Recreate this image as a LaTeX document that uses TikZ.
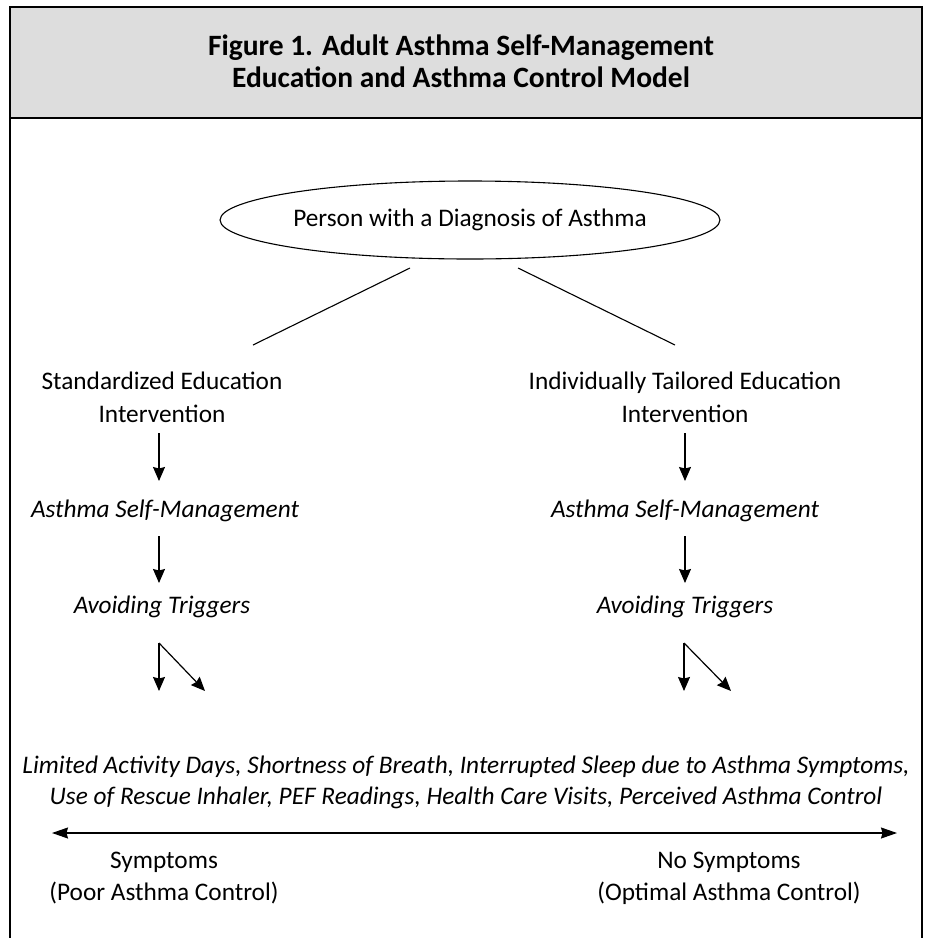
\documentclass[tikz,border=0pt]{standalone}
\usepackage{fontspec}
\setmainfont{Carlito}
\usetikzlibrary{arrows.meta,shapes.geometric}
\definecolor{titlegray}{RGB}{221,221,221}
\begin{document}
\begin{tikzpicture}[x=1pt,y=-1pt,
  frame/.style={line width=1.4pt},
  bodytext/.style={font={\fontsize{25.3}{33}\selectfont}, inner sep=0pt, align=center, anchor=base},
  listtext/.style={font={\fontsize{25.3}{31}\selectfont\itshape}, inner sep=0pt, align=center, anchor=base},
  titletext/.style={font={\fontsize{29.5}{32}\selectfont\bfseries}, inner sep=0pt, align=center, anchor=base},
  conn/.style={line width=1.1pt},
  arr/.style={line width=1.2pt, -{Stealth[length=14pt,width=12pt,inset=1.5pt]}},
  darr/.style={line width=1.2pt, {Stealth[length=16pt,width=11pt,inset=1.5pt]}-{Stealth[length=16pt,width=11pt,inset=1.5pt]}}
]
\useasboundingbox (0,0) rectangle (926,938);
% frame and title box
\path[fill=titlegray] (10,7) rectangle (922,118);
\draw[frame] (10,938) -- (10,7) -- (922,7) -- (922,938);
\draw[line width=1.8pt] (10,118) -- (922,118);
\node[titletext] (title) at (461,87) {Figure 1. Adult Asthma Self-Management\\Education and Asthma Control Model};

% top ellipse
\node[ellipse, draw, line width=1.1pt, minimum width=454pt, minimum height=78pt, inner sep=0pt,
      font={\fontsize{25.3}{30}\selectfont}] (person) at (470,220) {Person with a Diagnosis of Asthma};

% left column
\node[bodytext] (std) at (162,422) {Standardized Education\\Intervention};
\node[listtext] (asmL) at (165,517) {Asthma Self-Management};
\node[listtext] (avL) at (162,613) {Avoiding Triggers};

% right column
\node[bodytext] (ind) at (685,422) {Individually Tailored Education\\Intervention};
\node[listtext] (asmR) at (685,517) {Asthma Self-Management};
\node[listtext] (avR) at (685,613) {Avoiding Triggers};

% outcomes
\node[listtext] (list) at (466,804) {Limited Activity Days, Shortness of Breath, Interrupted Sleep due to Asthma Symptoms,\\Use of Rescue Inhaler, PEF Readings, Health Care Visits, Perceived Asthma Control};
\node[bodytext, font={\fontsize{25.3}{32}\selectfont}] (sympL) at (164,900) {Symptoms\\(Poor Asthma Control)};
\node[bodytext, font={\fontsize{25.3}{32}\selectfont}] (sympR) at (729,900) {No Symptoms\\(Optimal Asthma Control)};

% connector end points
\coordinate (pl) at (410,268);
\coordinate (pr) at (518,268);
\coordinate (sl) at (253,345);
\coordinate (sr) at (675,345);
\coordinate (a1s) at (159,433); \coordinate (a1e) at (159,481);
\coordinate (a2s) at (159,536); \coordinate (a2e) at (159,583);
\coordinate (b1s) at (685,433); \coordinate (b1e) at (685,481);
\coordinate (b2s) at (685,536); \coordinate (b2e) at (685,583);
\coordinate (fl) at (159,643); \coordinate (flv) at (159,691); \coordinate (fld) at (205,691);
\coordinate (fr) at (684,643); \coordinate (frv) at (684,691); \coordinate (frd) at (731,691);
\coordinate (hl) at (52,833); \coordinate (hr) at (897,833);

\draw[conn] (pl) -- (sl);
\draw[conn] (pr) -- (sr);
\draw[arr] (a1s) -- (a1e);
\draw[arr] (a2s) -- (a2e);
\draw[arr] (b1s) -- (b1e);
\draw[arr] (b2s) -- (b2e);
\draw[arr] (fl) -- (flv);
\draw[arr] (fl) -- (fld);
\draw[arr] (fr) -- (frv);
\draw[arr] (fr) -- (frd);
\draw[darr] (hl) -- (hr);
\end{tikzpicture}
\end{document}
